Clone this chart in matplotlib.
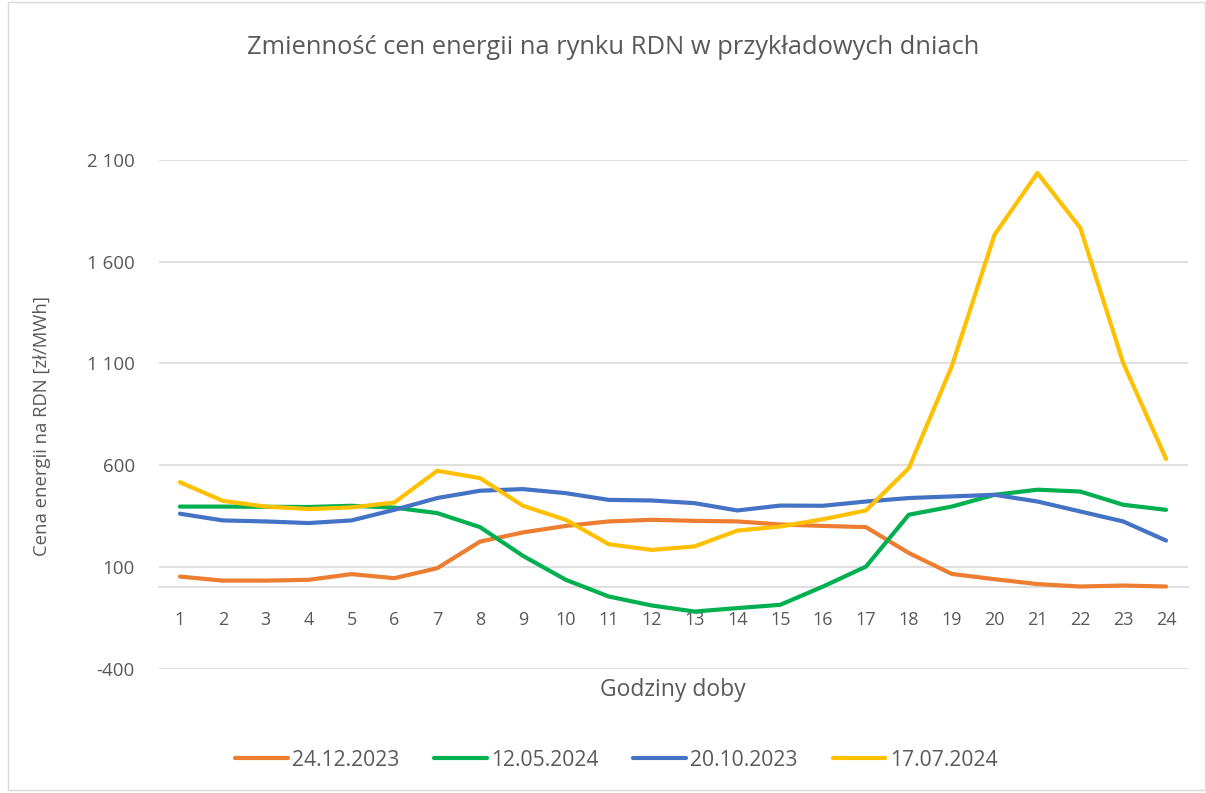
#!/usr/bin/env python3
"""Recreate the RDN energy price variability chart (Excel-style line chart)."""

import matplotlib

matplotlib.use("Agg")
import matplotlib.pyplot as plt
from matplotlib.patches import Rectangle
from matplotlib.ticker import FuncFormatter

hours = list(range(1, 25))

series_names = ["24.12.2023", "12.05.2024", "20.10.2023", "17.07.2024"]

price_24_12_2023 = [52, 32, 32, 36, 64, 44, 93, 224, 269, 301, 323, 331,
                    326, 323, 308, 301, 295, 168, 65, 39, 15, 3, 8, 3]
price_12_05_2024 = [396, 396, 395, 394, 400, 391, 364, 295, 154, 36, -46, -90,
                    -120, -103, -87, 3, 101, 356, 396, 454, 479, 470, 405, 380]
price_20_10_2023 = [361, 328, 323, 315, 328, 380, 438, 474, 482, 462, 429, 426,
                    413, 377, 401, 400, 421, 438, 446, 454, 421, 372, 323, 229]
price_17_07_2024 = [516, 424, 396, 384, 392, 416, 572, 536, 400, 331, 211, 183,
                    200, 278, 298, 334, 377, 585, 1085, 1733, 2036, 1766, 1102, 630]

y_ticks = [-400, 100, 600, 1100, 1600, 2100]

colors = ["#ED7D31", "#00B050", "#4472C4", "#FFC000"]
text_color = "#595959"
grid_color = "#D9D9D9"

plt.rcParams["font.family"] = ["Open Sans", "DejaVu Sans"]

W, H = 1206, 793
fig = plt.figure(figsize=(W / 100, H / 100), dpi=100)

# chart-area border
fig.patches.append(
    Rectangle((8 / W, 3 / H), (W - 9) / W, (H - 5) / H, transform=fig.transFigure,
              fill=False, edgecolor=grid_color, linewidth=1.0)
)

left, right, top, bottom = 158.5, 1187.5, 160, 668.5
ax = fig.add_axes([left / W, 1 - bottom / H, (right - left) / W, (bottom - top) / H])

all_series = [price_24_12_2023, price_12_05_2024, price_20_10_2023, price_17_07_2024]
for name, vals, col in zip(series_names, all_series, colors):
    ax.plot(hours, vals, color=col, linewidth=3.0, label=name,
            solid_capstyle="round", solid_joinstyle="round", zorder=3)

ax.set_xlim(0.5, 24.5)
ax.set_ylim(-400, 2100)
ax.set_yticks(y_ticks)
ax.yaxis.set_major_formatter(FuncFormatter(lambda v, _: f"{int(v):,}".replace(",", " ")))
ax.set_xticks(hours)
ax.grid(axis="y", color=grid_color, linewidth=1.2, zorder=0)

for side in ["top", "right", "left"]:
    ax.spines[side].set_visible(False)
ax.spines["bottom"].set_position(("data", 0))
ax.spines["bottom"].set_color(grid_color)
ax.spines["bottom"].set_linewidth(1.2)

ax.tick_params(axis="x", length=0, pad=17, labelsize=13, labelcolor=text_color)
ax.tick_params(axis="y", length=0, pad=17, labelsize=13.5, labelcolor=text_color)

fig.text(42 / W, 1 - 426 / H, "Cena energii na RDN [zł/MWh]", rotation=90,
         ha="center", va="center", fontsize=13.3, color=text_color)
fig.text(673 / W, 1 - 690 / H, "Godziny doby", ha="center", va="center",
         fontsize=16.5, color=text_color)
fig.text(613 / W, 1 - 48 / H, "Zmienność cen energii na rynku RDN w przykładowych dniach",
         ha="center", va="center", fontsize=18.4, color=text_color)

fig.legend(loc="center", bbox_to_anchor=(616 / W, 1 - 760 / H), ncol=4, frameon=False,
           fontsize=15.2, handlelength=2.5, handletextpad=0.2, columnspacing=1.65,
           labelcolor=text_color)

fig.savefig("out.png", dpi=100)
